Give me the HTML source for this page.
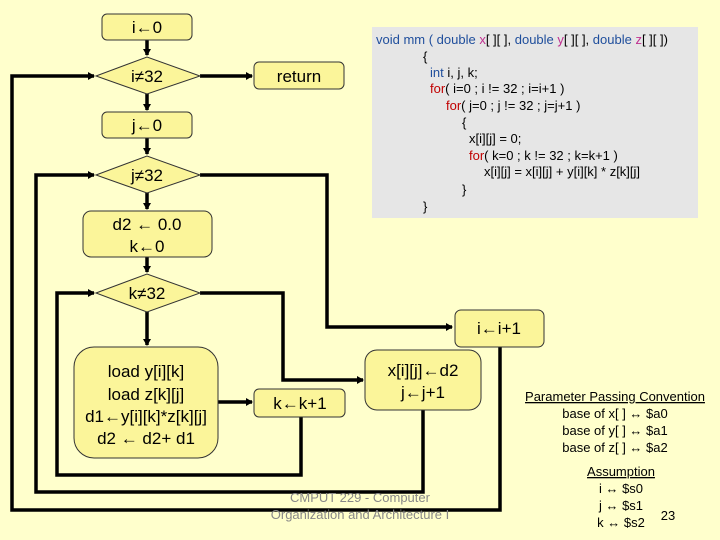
<!DOCTYPE html>
<html><head><style>
html,body{margin:0;padding:0;background:#ffffcc;}
svg{display:block;}
text{font-family:"Liberation Sans",sans-serif;}
</style></head><body>
<svg width="720" height="540" viewBox="0 0 720 540" xmlns="http://www.w3.org/2000/svg">
<defs>
<marker id="a" markerWidth="8" markerHeight="8" refX="6" refY="4" orient="auto" markerUnits="userSpaceOnUse"><path d="M0,0 L7,4 L0,8 z" fill="#000"/></marker>
</defs>
<rect width="720" height="540" fill="#ffffcc"/>
<g stroke="#000" stroke-width="3.5" fill="none">
<line x1="147" y1="39" x2="147" y2="55" marker-end="url(#a)"/>
<line x1="200" y1="76" x2="252" y2="76" marker-end="url(#a)"/>
<line x1="147" y1="94" x2="147" y2="110" marker-end="url(#a)"/>
<line x1="147" y1="138" x2="147" y2="154" marker-end="url(#a)"/>
<line x1="147" y1="193" x2="147" y2="209" marker-end="url(#a)"/>
<line x1="147" y1="257" x2="147" y2="272" marker-end="url(#a)"/>
<line x1="147" y1="312" x2="147" y2="345" marker-end="url(#a)"/>
<line x1="218" y1="402" x2="252" y2="402" marker-end="url(#a)"/>
<polyline points="200,175 327,175 327,327 452,327" marker-end="url(#a)"/>
<polyline points="200,293 283,293 283,380 363,380" marker-end="url(#a)"/>
<polyline points="301,417 301,475 57,475 57,293 94,293" marker-end="url(#a)"/>
<polyline points="423,410 423,492 36,492 36,175 94,175" marker-end="url(#a)"/>
<polyline points="500,347 500,510 12,510 12,76 94,76" marker-end="url(#a)"/>
</g>
<g fill="#fbf59a" stroke="#333" stroke-width="1">
<rect x="102" y="14" width="90" height="26" rx="5"/>
<polygon points="96,76 147,57 200,76 147,94"/>
<rect x="254" y="62" width="90" height="27" rx="5"/>
<rect x="102" y="112" width="90" height="26" rx="5"/>
<polygon points="96,175 147,156 200,175 147,193"/>
<rect x="83" y="211" width="129" height="46" rx="8"/>
<polygon points="96,293 147,274 200,293 147,312"/>
<rect x="455" y="310" width="89" height="37" rx="6"/>
<rect x="74" y="347" width="144" height="111" rx="20"/>
<rect x="254" y="389" width="91" height="28" rx="5"/>
<rect x="365" y="350" width="116" height="60" rx="12"/>
</g>
<g font-size="17" text-anchor="middle" fill="#000">
<text x="147" y="33">i←0</text>
<text x="147" y="82">i≠32</text>
<text x="299" y="82">return</text>
<text x="147" y="131">j←0</text>
<text x="147" y="181">j≠32</text>
<text x="147" y="230">d2 ← 0.0</text>
<text x="147" y="252">k←0</text>
<text x="147" y="299">k≠32</text>
<text x="499" y="334">i←i+1</text>
<text x="146" y="377">load y[i][k]</text>
<text x="146" y="400">load z[k][j]</text>
<text x="146" y="422">d1←y[i][k]*z[k][j]</text>
<text x="146" y="444">d2 ← d2+ d1</text>
<text x="300" y="409">k←k+1</text>
<text x="423" y="376">x[i][j]←d2</text>
<text x="423" y="398">j←j+1</text>
</g>
<rect x="372" y="27" width="326" height="191" fill="#e6e6e6"/>
<g font-size="13" fill="#000">
<text x="376" y="44"><tspan fill="#1f4e9c">void mm ( double </tspan><tspan fill="#c03090">x</tspan>[ ][ ], <tspan fill="#1f4e9c">double </tspan><tspan fill="#c03090">y</tspan>[ ][ ], <tspan fill="#1f4e9c">double </tspan><tspan fill="#c03090">z</tspan>[ ][ ])</text>
<text x="423" y="61">{</text>
<text x="430" y="77"><tspan fill="#1f4e9c">int</tspan> i, j, k;</text>
<text x="430" y="93"><tspan fill="#c00000">for</tspan>( i=0 ; i != 32 ; i=i+1 )</text>
<text x="446" y="110"><tspan fill="#c00000">for</tspan>( j=0 ; j != 32 ; j=j+1 )</text>
<text x="462" y="127">{</text>
<text x="469" y="143">x[i][j] = 0;</text>
<text x="469" y="160"><tspan fill="#c00000">for</tspan>( k=0 ; k != 32 ; k=k+1 )</text>
<text x="484" y="176">x[i][j] = x[i][j] + y[i][k] * z[k][j]</text>
<text x="462" y="194">}</text>
<text x="423" y="211">}</text>
</g>
<g font-size="13" text-anchor="middle" fill="#000">
<text x="615" y="401" text-decoration="underline">Parameter Passing Convention</text>
<text x="615" y="418">base of x[ ] ↔ $a0</text>
<text x="615" y="435">base of y[ ] ↔ $a1</text>
<text x="615" y="452">base of z[ ] ↔ $a2</text>
<text x="621" y="476" text-decoration="underline">Assumption</text>
<text x="621" y="493">i ↔ $s0</text>
<text x="621" y="510">j ↔ $s1</text>
<text x="621" y="527">k ↔ $s2</text>
<text x="668" y="520">23</text>
</g>
<g font-size="13" text-anchor="middle" fill="#888">
<text x="360" y="502">CMPUT 229 - Computer</text>
<text x="360" y="519">Organization and Architecture I</text>
</g>
</svg>
</body></html>
